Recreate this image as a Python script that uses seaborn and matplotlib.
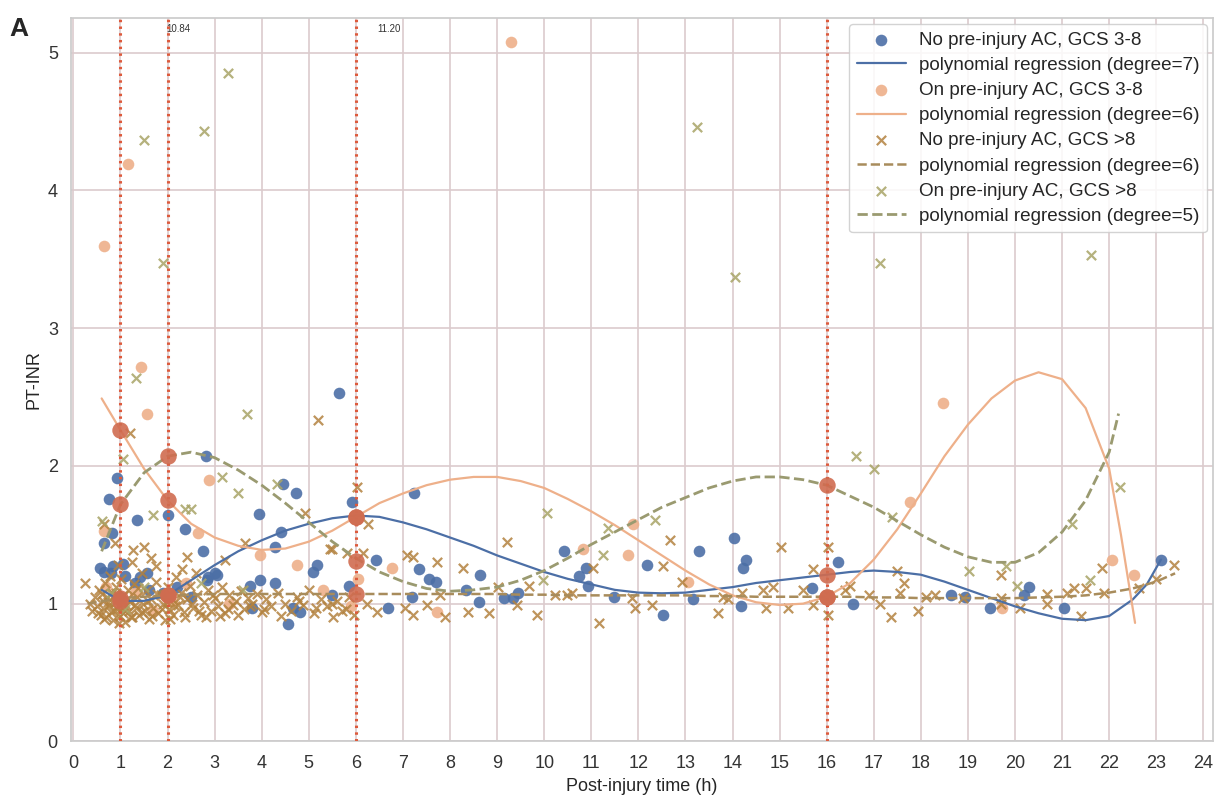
import matplotlib
matplotlib.use("Agg")
import matplotlib.pyplot as plt
import seaborn as sns

# --- No pre-injury AC, GCS 3-8 (blue dots)
noac_s_t = [0.93, 0.76, 2.82, 5.64, 4.46, 4.73, 1.36, 2.0, 2.36, 2.76, 3.95, 4.41, 4.29, 5.92,
            0.66, 0.83, 0.57, 0.79, 1.42, 5.18, 5.09, 3.97, 3.76, 4.29, 5.86, 5.5, 3.8, 4.67,
            4.82, 4.56, 2.84, 3.06, 7.24, 6.43, 7.34, 7.55, 7.7, 8.64, 8.34, 7.19, 6.68, 8.61,
            9.15, 9.44, 9.33, 10.42, 10.88, 10.74, 10.93, 12.18, 11.48, 12.52, 14.03, 13.28,
            14.28, 14.22, 16.25, 13.16, 14.17, 15.68, 16.55, 18.65, 18.93, 19.46, 20.3, 21.03,
            23.1, 20.2, 0.64, 0.85, 1.06, 1.57, 2.86, 3.01, 1.1, 1.3, 1.6, 1.9, 2.2, 2.5, 1.0]
noac_s_v = [1.91, 1.76, 2.07, 2.53, 1.87, 1.80, 1.61, 1.64, 1.54, 1.38, 1.65, 1.52, 1.41, 1.74,
            1.44, 1.51, 1.26, 1.22, 1.19, 1.28, 1.23, 1.17, 1.13, 1.15, 1.13, 1.06, 0.97, 0.97,
            0.94, 0.85, 1.17, 1.21, 1.80, 1.32, 1.25, 1.18, 1.16, 1.21, 1.10, 1.05, 0.97, 1.01,
            1.04, 1.08, 1.04, 1.38, 1.26, 1.20, 1.13, 1.28, 1.05, 0.92, 1.48, 1.38,
            1.32, 1.26, 1.30, 1.03, 0.98, 1.11, 1.00, 1.06, 1.05, 0.97, 1.12, 0.97,
            1.32, 1.06, 1.23, 1.27, 1.29, 1.22, 1.19, 1.22, 1.20, 1.15, 1.10, 1.08, 1.12, 1.05, 1.05]

# --- On pre-injury AC, GCS 3-8 (peach dots)
onac_s_t = [0.66, 1.15, 1.44, 1.57, 2.89, 2.65, 0.64, 3.97, 4.75, 6.77, 6.05, 11.88, 11.78, 10.82,
            7.72, 17.76, 13.05, 18.46, 22.05, 22.53, 19.73, 9.3, 0.7, 1.0, 1.3, 1.7, 2.1, 2.4,
            3.3, 5.9, 5.3]
onac_s_v = [3.60, 4.19, 2.72, 2.38, 1.90, 1.51, 1.53, 1.35, 1.28, 1.26, 1.18, 1.58, 1.35, 1.40,
            0.94, 1.74, 1.16, 2.46, 1.32, 1.21, 0.97, 5.08, 1.12, 0.98, 1.08, 0.95, 1.02, 1.15,
            1.00, 0.98, 1.10]

# --- No pre-injury AC, GCS >8 (brown crosses)
noac_m_t = [5.2, 1.21, 0.25, 0.89, 0.64, 4.92, 5.45, 3.65, 3.22, 2.42, 1.27, 1.49, 1.65, 5.81,
            6.03, 6.26, 5.5, 6.15, 7.72, 7.09, 7.21, 8.28, 9.2, 9.68, 9.84, 8.83, 8.38, 7.89,
            7.21, 6.45, 5.52, 6.24, 7.04, 7.51, 7.79, 9.02, 9.42, 10.23, 10.48, 10.6, 11.16,
            12.67, 12.52, 11.03, 11.86, 11.92, 12.28, 15.04, 15.7, 16.02, 16.02, 17.5, 19.7,
            17.36, 17.93, 17.65, 17.55, 16.9, 17.14, 18.1, 18.3, 15.7, 15.17, 14.72, 13.69,
            12.92, 14.64, 14.85, 15.5, 16.38, 16.5, 16.02, 18.9, 19.7, 13.8, 13.9, 14.2, 21.84,
            21.1, 21.25, 21.5, 21.9, 20.67, 20.67, 21.4, 23.0, 23.38, 22.64, 19.7, 20.1,
            0.35, 0.40, 0.45, 0.50, 0.55, 0.58, 0.62, 0.65, 0.68, 0.70, 0.72, 0.75, 0.78, 0.80,
            0.82, 0.85, 0.88, 0.90, 0.93, 0.95, 0.98, 1.00, 1.02, 1.05, 1.08, 1.10, 1.12, 1.15,
            1.18, 1.20, 1.25, 1.28, 1.32, 1.35, 1.40, 1.45, 1.48, 1.52, 1.55, 1.60, 1.65, 1.70,
            1.75, 1.80, 1.85, 1.90, 1.95, 2.00, 2.02, 2.08, 2.12, 2.18, 2.22, 2.28, 2.35, 2.42,
            2.48, 2.55, 2.62, 2.70, 2.78, 2.85, 2.92, 3.00, 3.08, 3.15, 3.22, 3.30, 3.38, 3.45,
            3.55, 3.62, 3.70, 3.80, 3.90, 4.00, 4.10, 4.20, 4.35, 4.50, 4.62, 4.75, 4.88, 5.00,
            5.12, 5.25, 5.38, 5.60, 5.70, 5.85, 5.95, 0.95, 1.25, 1.75, 2.30, 2.60,
            0.52, 0.60, 0.66, 0.74, 0.84, 0.91, 0.97, 1.04, 1.13, 1.22, 1.30, 1.38, 1.46, 1.58,
            1.68, 1.78, 1.88, 1.98, 2.06, 2.16, 2.26, 2.38, 2.52, 2.66, 2.82, 2.96, 3.12, 3.28,
            3.50, 3.75, 4.05, 4.40, 4.80, 5.15, 5.50, 5.80]
noac_m_v = [2.33, 2.24, 1.15, 1.44, 1.58, 1.66, 1.40, 1.44, 1.32, 1.34, 1.39, 1.41, 1.33, 1.37,
            1.85, 1.58, 1.40, 1.37, 1.30, 1.35, 1.34, 1.26, 1.45, 1.13, 0.92, 0.93, 0.94, 0.90,
            0.92, 0.94, 0.90, 1.00, 0.97, 0.99, 1.06, 1.12, 0.99, 1.06, 1.06, 1.08, 0.86,
            1.46, 1.27, 1.26, 1.04, 0.97, 0.99, 1.41, 1.25, 1.41, 0.92, 1.24, 1.21,
            0.90, 0.95, 1.15, 1.08, 1.06, 1.00, 1.05, 1.06, 0.99, 0.97, 0.97, 0.93,
            1.16, 1.10, 1.12, 1.10, 1.10, 1.13, 1.06, 1.04, 1.04, 1.05, 1.03, 1.08, 1.26,
            1.08, 1.11, 1.11, 1.08, 1.07, 1.00, 0.91, 1.18, 1.28, 1.11, 1.00, 0.97,
            1.00, 0.95, 1.05, 0.98, 1.10, 0.92, 1.02, 0.96, 1.15, 0.90, 1.05, 0.99, 1.20, 0.94,
            1.08, 0.88, 1.01, 1.12, 0.96, 1.04, 0.91, 1.00, 1.18, 0.93, 1.06, 0.87, 0.99, 1.10,
            0.95, 1.02, 0.90, 1.14, 0.97, 1.05, 0.92, 1.22, 1.00, 0.95, 1.09, 0.89, 1.03, 0.97,
            1.16, 0.93, 1.06, 1.00, 0.88, 1.12, 0.96, 1.04, 0.92, 1.19, 0.99, 1.08, 0.94, 1.03,
            1.13, 0.97, 1.06, 0.92, 1.01, 1.10, 0.95, 1.04, 0.98, 1.12, 0.93, 1.06, 0.99, 1.02,
            1.09, 0.96, 1.04, 1.00, 1.07, 0.94, 1.03, 0.98, 1.08, 1.00, 0.95, 1.05, 0.99, 1.10,
            0.93, 1.03, 0.98, 1.02, 0.95, 1.05, 0.92, 1.28, 1.30, 1.27, 1.25, 1.22,
            0.93, 1.07, 0.89, 1.01, 0.95, 1.08, 0.86, 0.97, 1.03, 0.90, 0.99, 1.11, 0.94, 1.02,
            0.91, 1.07, 0.96, 1.01, 0.89, 0.98, 1.05, 0.90, 1.00, 0.95, 0.90, 1.06, 0.91, 0.96,
            0.92, 0.98, 0.96, 0.91, 1.02, 0.97, 1.00, 0.96]

# --- On pre-injury AC, GCS >8 (olive crosses)
onac_m_t = [3.29, 2.78, 1.49, 1.91, 13.24, 14.05, 17.14, 21.62, 16.63, 17.01, 22.24, 21.22,
            3.69, 1.34, 1.06, 3.16, 3.5, 4.33, 1.7, 2.36, 2.5, 10.06, 9.98, 11.35, 12.35,
            11.25, 17.38, 19.8, 21.6, 20.05, 19.03, 0.6, 0.8, 1.1, 1.5, 2.05, 2.7, 3.6]
onac_m_v = [4.85, 4.43, 4.37, 3.47, 4.46, 3.37, 3.47, 3.53, 2.07, 1.98, 1.85, 1.58,
            2.38, 2.64, 2.05, 1.92, 1.80, 1.87, 1.64, 1.69, 1.69, 1.66, 1.17, 1.55, 1.61,
            1.35, 1.63, 1.27, 1.17, 1.13, 1.24, 1.60, 1.08, 0.96, 1.12, 1.06, 1.15, 1.10]

# --- regression curves
curve_t = [0.6, 1.0, 1.5, 2.0, 2.5, 3.0, 3.5, 4.0, 4.5, 5.0, 5.5, 6.0, 6.5, 7.0, 7.5, 8.0,
           8.5, 9.0, 9.5, 10.0, 10.5, 11.0, 11.5, 12.0, 12.5, 13.0, 13.5, 14.0, 14.5, 15.0,
           15.5, 16.0, 16.5, 17.0, 17.5, 18.0, 18.5, 19.0, 19.5, 20.0, 20.5, 21.0, 21.5, 22.0]
blue_fit = [1.10, 1.02, 1.02, 1.06, 1.17, 1.28, 1.38, 1.46, 1.53, 1.58, 1.62, 1.64, 1.63, 1.59,
            1.54, 1.48, 1.42, 1.35, 1.29, 1.23, 1.18, 1.14, 1.10, 1.08, 1.075, 1.08, 1.10, 1.12,
            1.15, 1.17, 1.19, 1.21, 1.23, 1.24, 1.23, 1.21, 1.16, 1.10, 1.04, 0.98, 0.93, 0.89,
            0.88, 0.91]
blue_tail_t = [22.5, 22.8, 23.1]
blue_tail_v = [1.03, 1.14, 1.32]
peach_fit = [2.49, 2.26, 1.98, 1.75, 1.58, 1.48, 1.42, 1.39, 1.40, 1.45, 1.53, 1.63, 1.73, 1.80,
             1.86, 1.90, 1.92, 1.92, 1.89, 1.84, 1.76, 1.67, 1.57, 1.46, 1.35, 1.24, 1.14, 1.06,
             1.01, 0.99, 1.00, 1.05, 1.15, 1.32, 1.54, 1.80, 2.07, 2.30, 2.49, 2.62, 2.68, 2.63,
             2.42, 1.98]
peach_tail_t = [22.25, 22.55]
peach_tail_v = [1.50, 0.86]
brown_fit = [1.00, 1.04, 1.05, 1.06, 1.065, 1.07, 1.07, 1.07, 1.07, 1.07, 1.07, 1.07, 1.07, 1.07,
             1.07, 1.07, 1.07, 1.07, 1.065, 1.065, 1.06, 1.06, 1.06, 1.06, 1.06, 1.06, 1.055,
             1.055, 1.05, 1.05, 1.05, 1.05, 1.05, 1.045, 1.045, 1.04, 1.04, 1.04, 1.04, 1.04,
             1.045, 1.05, 1.06, 1.08]
brown_tail_t = [22.5, 23.0, 23.4]
brown_tail_v = [1.11, 1.16, 1.22]
olive_fit = [1.38, 1.72, 1.95, 2.07, 2.10, 2.06, 1.97, 1.86, 1.73, 1.59, 1.45, 1.33, 1.23, 1.16,
             1.11, 1.09, 1.10, 1.12, 1.17, 1.24, 1.33, 1.43, 1.52, 1.61, 1.70, 1.77, 1.84, 1.89,
             1.92, 1.92, 1.90, 1.86, 1.78, 1.70, 1.60, 1.50, 1.41, 1.34, 1.30, 1.30, 1.37, 1.52,
             1.75, 2.10]
olive_tail_t = [22.2]
olive_tail_v = [2.38]

# cut-off times and fitted values there
cut_times = [1, 2, 6, 16]
cut_blue = [1.02, 1.06, 1.63, 1.21]
cut_peach = [2.26, 1.75, 1.63, 1.05]
cut_brown = [1.04, 1.06, 1.07, 1.05]
cut_olive = [1.72, 2.07, 1.31, 1.86]

sns.set_theme(style="whitegrid")
plt.rcParams["font.family"] = ["Liberation Sans", "DejaVu Sans"]

fig = plt.figure(figsize=(12.25, 7.98), dpi=100)
ax = fig.add_axes([0.058, 0.071, 0.932, 0.906])

c_blue = "#4c6fa6"
c_peach = "#eeb08a"
c_brown = "#b3823f"
c_olive = "#a8a466"

sns.scatterplot(x=noac_s_t, y=noac_s_v, ax=ax, color=c_blue, s=70, linewidth=0,
                alpha=0.9, label="No pre-injury AC, GCS 3-8", zorder=3)
sns.lineplot(x=curve_t + blue_tail_t, y=blue_fit + blue_tail_v, ax=ax, color=c_blue,
             lw=1.6, sort=False, estimator=None, label="polynomial regression (degree=7)", zorder=4)
sns.scatterplot(x=onac_s_t, y=onac_s_v, ax=ax, color=c_peach, s=70, linewidth=0,
                alpha=0.9, label="On pre-injury AC, GCS 3-8", zorder=3)
sns.lineplot(x=curve_t + peach_tail_t, y=peach_fit + peach_tail_v, ax=ax, color=c_peach,
             lw=1.6, sort=False, estimator=None, label="polynomial regression (degree=6)", zorder=4)
sns.scatterplot(x=noac_m_t, y=noac_m_v, ax=ax, color=c_brown, marker="x", s=45,
                linewidth=1.6, alpha=0.85, label="No pre-injury AC, GCS >8", zorder=3)
sns.lineplot(x=[0.3] + curve_t[1:] + brown_tail_t, y=brown_fit + brown_tail_v, ax=ax,
             color="#a88c5c", lw=1.8, linestyle="--", sort=False, estimator=None,
             label="polynomial regression (degree=6)", zorder=4)
sns.scatterplot(x=onac_m_t, y=onac_m_v, ax=ax, color=c_olive, marker="x", s=45,
                linewidth=1.6, alpha=0.85, label="On pre-injury AC, GCS >8", zorder=3)
sns.lineplot(x=curve_t + olive_tail_t, y=olive_fit + olive_tail_v, ax=ax, color="#9a9a70",
             lw=2.0, linestyle="--", sort=False, estimator=None,
             label="polynomial regression (degree=5)", zorder=4)

for t in cut_times:
    ax.axvline(t, color="#dd5a3c", lw=2.2, linestyle=(0, (0.8, 1.4)), zorder=5)
for vals in (cut_blue, cut_peach, cut_brown, cut_olive):
    sns.scatterplot(x=cut_times, y=vals, ax=ax, color="#d06c50", s=140, linewidth=0,
                    alpha=0.9, legend=False, zorder=6)

ax.text(1.97, 5.15, "10.84", fontsize=7, color="#333333")
ax.text(6.45, 5.15, "11.20", fontsize=7, color="#333333")

ax.set_xlim(-0.05, 24.2)
ax.set_ylim(0, 5.25)
ax.set_xticks(range(0, 25))
ax.set_yticks(range(0, 6))
ax.grid(True, color="#dccbcd", lw=1.2)
for sp in ax.spines.values():
    sp.set_color("#cccccc")
ax.tick_params(labelsize=13, colors="#333333")
ax.set_xlabel("Post-injury time (h)", fontsize=13, labelpad=5)
ax.set_ylabel("PT-INR", fontsize=13)

ax.legend(loc="upper right", fontsize=13.6, handlelength=2.6, labelspacing=0.42,
          handletextpad=0.7, framealpha=0.85, edgecolor="#cccccc", borderaxespad=0.3)
fig.text(0.008, 0.955, "A", fontsize=19, fontweight="bold")

fig.savefig("out.png", dpi=100)
